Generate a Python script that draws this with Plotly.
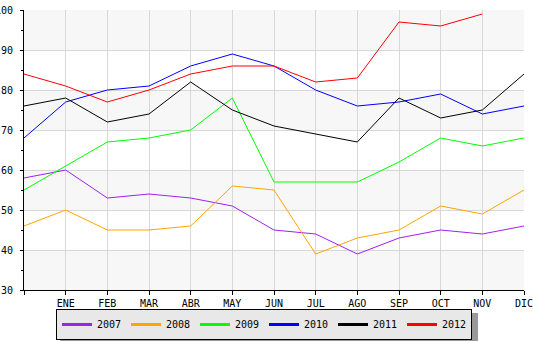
import plotly.graph_objects as go

months = ["", "ENE", "FEB", "MAR", "ABR", "MAY", "JUN", "JUL", "AGO", "SEP", "OCT", "NOV", "DIC"]
years = ["2007", "2008", "2009", "2010", "2011", "2012"]
colors = ["#a020f0", "#ffa500", "#00ff00", "#0000ff", "#000000", "#ff0000"]

v2007 = [58, 60, 53, 54, 53, 51, 45, 44, 39, 43, 45, 44, 46]
v2008 = [46, 50, 45, 45, 46, 56, 55, 39, 43, 45, 51, 49, 55]
v2009 = [55, 61, 67, 68, 70, 78, 57, 57, 57, 62, 68, 66, 68]
v2010 = [68, 77, 80, 81, 86, 89, 86, 80, 76, 77, 79, 74, 76]
v2011 = [76, 78, 72, 74, 82, 75, 71, 69, 67, 78, 73, 75, 84]
v2012 = [84, 81, 77, 80, 84, 86, 86, 82, 83, 97, 96, 99, None]
series = [v2007, v2008, v2009, v2010, v2011, v2012]

yticks = [30, 40, 50, 60, 70, 80, 90, 100]
band_starts = [30, 50, 70, 90]

FONT = "DejaVu Sans Mono"
fig = go.Figure()
xs = list(range(len(months)))
for name, col, vals in zip(years, colors, series):
    fig.add_trace(go.Scatter(x=xs, y=vals, mode="lines", name=name, legendgroup=name,
                             showlegend=False,
                             line=dict(color=col, width=1), connectgaps=False))
# legend entries (thicker sample lines, as in the reference)
for name, col in zip(years, colors):
    fig.add_trace(go.Scatter(x=[None], y=[None], mode="lines", name=name,
                             legendgroup=name, line=dict(color=col, width=3)))

for b in band_starts:
    fig.add_shape(type="rect", xref="paper", x0=0, x1=1, yref="y", y0=b, y1=b + 10,
                  fillcolor="#f7f7f7", line=dict(width=0), layer="below")

LEG_X = 56
LEG_TOP = 309
# legend drop shadow
fig.add_shape(type="rect", xref="paper", yref="paper",
              x0=(LEG_X + 4 - 24) / 500, x1=(478 - 24) / 500,
              y0=(290 - 345) / 280, y1=(290 - (LEG_TOP + 4)) / 280,
              fillcolor="#9a9a9a", line=dict(width=0), layer="above")

fig.update_layout(
    template="none",
    width=533, height=341,
    margin=dict(l=24, r=9, t=10, b=51, autoexpand=False),
    paper_bgcolor="white", plot_bgcolor="white",
    font=dict(family=FONT, size=10, color="black"),
    showlegend=True,
    legend=dict(orientation="h", x=(LEG_X - 24) / 500, y=(290 - LEG_TOP) / 280,
                xanchor="left", yanchor="top", bgcolor="#e8e8e8",
                bordercolor="black", borderwidth=1,
                font=dict(family=FONT, size=10, color="black"),
                itemwidth=30, entrywidth=24, traceorder="normal"),
    xaxis=dict(range=[0, 12], tickvals=xs, ticktext=months, showgrid=True,
               gridcolor="#d8d8d8", gridwidth=1, showline=True, linecolor="black",
               linewidth=1, ticks="outside", ticklen=4, tickcolor="black",
               zeroline=False, automargin=False, fixedrange=True,
               ticklabeloverflow="allow"),
    yaxis=dict(range=[30, 100], tickvals=yticks, showgrid=True, gridcolor="#d8d8d8",
               gridwidth=1, showline=True, linecolor="black", linewidth=1,
               ticks="outside", ticklen=3, tickcolor="black", zeroline=False,
               automargin=False, ticklabelstandoff=5, ticklabeloverflow="allow",
               minor=dict(dtick=5, ticks="outside", ticklen=2, tickcolor="black",
                          showgrid=False)),
)

fig.write_html("out.html")
